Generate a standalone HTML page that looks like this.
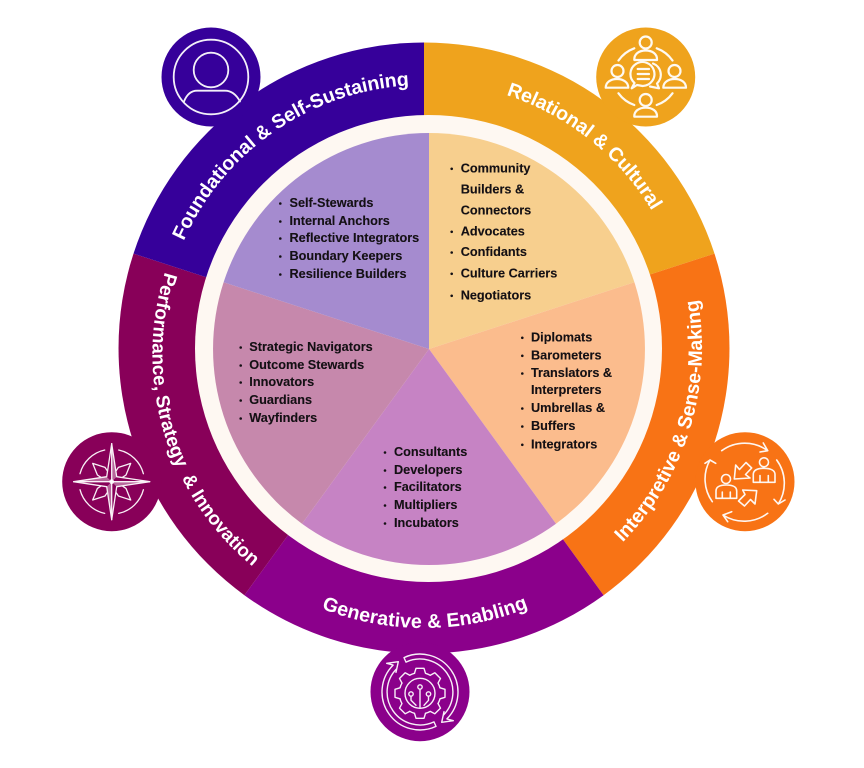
<!DOCTYPE html>
<html lang="en">
<head>
<meta charset="utf-8">
<title>Roles wheel</title>
<style>
html,body{margin:0;padding:0;background:#fff;width:864px;height:768px;overflow:hidden}
svg{display:block}
.arc{font-family:"Liberation Sans",sans-serif;font-weight:700;fill:#fff;font-size:19.6px}
.li{font-family:"Liberation Sans",sans-serif;font-weight:700;fill:#141014;font-size:12.7px;stroke:#141014;stroke-width:.12}
.ic{fill:none;stroke:#fff;stroke-linecap:round;stroke-linejoin:round;opacity:.94}
</style>
</head>
<body>
<svg width="864" height="768" viewBox="0 0 864 768" xmlns="http://www.w3.org/2000/svg">
<defs>
<path id="p1" d="M183.7 241A263 263 0 0 1 410.2 85.4"/>
<path id="p2" d="M506.2 95A266 266 0 0 1 654.4 215"/>
<path id="p3" d="M622.6 542.5A278 278 0 0 0 696.9 295"/>
<path id="p4" d="M321.4 608.5A280 280 0 0 0 533.4 605.7"/>
<path id="p5" d="M165 272A275 275 0 0 0 252 566"/>
</defs>

<!-- outer ring -->
<path d="M424 348V42.5A305.5 305.5 0 0 1 714.5 253.6Z" fill="#EFA31D"/>
<path d="M424 348L714.5 253.6A305.5 305.5 0 0 1 603.6 595.2Z" fill="#F87315"/>
<path d="M424 348L603.6 595.2A305.5 305.5 0 0 1 244.4 595.2Z" fill="#8B008B"/>
<path d="M424 348L244.4 595.2A305.5 305.5 0 0 1 133.5 253.6Z" fill="#880059"/>
<path d="M424 348L133.5 253.6A305.5 305.5 0 0 1 424 42.5Z" fill="#36009A"/>

<!-- icon discs -->
<circle cx="211" cy="77" r="49.5" fill="#36009A"/>
<circle cx="645.7" cy="77" r="49.5" fill="#EFA31D"/>
<circle cx="745" cy="481.7" r="49.5" fill="#F87315"/>
<circle cx="420" cy="691.7" r="49.5" fill="#8B008B"/>
<circle cx="111.7" cy="481.7" r="49.5" fill="#880059"/>

<!-- cream ring -->
<circle cx="428.5" cy="348.5" r="233.5" fill="#FEF8F2"/>

<!-- pie -->
<path d="M429 349V133A216 216 0 0 1 634.4 282.3Z" fill="#F7CF8E"/>
<path d="M429 349L634.4 282.3A216 216 0 0 1 556 523.7Z" fill="#FBBC8D"/>
<path d="M429 349L556 523.7A216 216 0 0 1 302 523.7Z" fill="#C683C4"/>
<path d="M429 349L302 523.7A216 216 0 0 1 223.6 282.3Z" fill="#C688AC"/>
<path d="M429 349L223.6 282.3A216 216 0 0 1 429 133Z" fill="#A58BCF"/>

<!-- ring labels -->
<text class="arc"><textPath href="#p1" textLength="288">Foundational &amp; Self-Sustaining</textPath></text>
<text class="arc"><textPath href="#p2" textLength="190">Relational &amp; Cultural</textPath></text>
<text class="arc"><textPath href="#p3" textLength="264">Interpretive &amp; Sense-Making</textPath></text>
<text class="arc"><textPath href="#p4" textLength="212">Generative &amp; Enabling</textPath></text>
<text class="arc" style="font-size:19px" xml:space="preserve"><textPath href="#p5" textLength="326">Performance, Strategy&#160; &amp; Innovation</textPath></text>

<!-- lists -->
<g class="li">
<text x="289.5" y="207">Self-Stewards</text>
<text x="289.5" y="225">Internal Anchors</text>
<text x="289.5" y="242">Reflective Integrators</text>
<text x="289.5" y="260">Boundary Keepers</text>
<text x="289.5" y="278">Resilience Builders</text>

<text x="249.3" y="351">Strategic Navigators</text>
<text x="249.3" y="369">Outcome Stewards</text>
<text x="249.3" y="386">Innovators</text>
<text x="249.3" y="404">Guardians</text>
<text x="249.3" y="422">Wayfinders</text>

<text x="460.7" y="172.3">Community</text>
<text x="460.7" y="193.3">Builders &amp;</text>
<text x="460.7" y="214.3">Connectors</text>
<text x="460.7" y="235.3">Advocates</text>
<text x="460.7" y="256">Confidants</text>
<text x="460.7" y="277.3">Culture Carriers</text>
<text x="460.7" y="299.3">Negotiators</text>

<text x="531" y="341.3">Diplomats</text>
<text x="531" y="359.3">Barometers</text>
<text x="531" y="377">Translators &amp;</text>
<text x="531" y="394">Interpreters</text>
<text x="531" y="412">Umbrellas &amp;</text>
<text x="531" y="430">Buffers</text>
<text x="531" y="448.3">Integrators</text>

<text x="394" y="456">Consultants</text>
<text x="394" y="474">Developers</text>
<text x="394" y="491">Facilitators</text>
<text x="394" y="509">Multipliers</text>
<text x="394" y="527">Incubators</text>
</g>

<!-- bullets -->
<g fill="#141014">
<circle cx="280.3" cy="203.5" r="1.3"/><circle cx="280.3" cy="221.5" r="1.3"/><circle cx="280.3" cy="238.5" r="1.3"/><circle cx="280.3" cy="256.5" r="1.3"/><circle cx="280.3" cy="274.5" r="1.3"/>
<circle cx="240.7" cy="347.5" r="1.3"/><circle cx="240.7" cy="365.5" r="1.3"/><circle cx="240.7" cy="382.5" r="1.3"/><circle cx="240.7" cy="400.5" r="1.3"/><circle cx="240.7" cy="418.5" r="1.3"/>
<circle cx="451.7" cy="168.8" r="1.3"/><circle cx="451.7" cy="231.8" r="1.3"/><circle cx="451.7" cy="252.5" r="1.3"/><circle cx="451.7" cy="273.8" r="1.3"/><circle cx="451.7" cy="295.8" r="1.3"/>
<circle cx="522.3" cy="337.8" r="1.3"/><circle cx="522.3" cy="355.8" r="1.3"/><circle cx="522.3" cy="373.5" r="1.3"/><circle cx="522.3" cy="408.5" r="1.3"/><circle cx="522.3" cy="426.5" r="1.3"/><circle cx="522.3" cy="444.8" r="1.3"/>
<circle cx="385" cy="452.5" r="1.3"/><circle cx="385" cy="470.5" r="1.3"/><circle cx="385" cy="487.5" r="1.3"/><circle cx="385" cy="505.5" r="1.3"/><circle cx="385" cy="523.5" r="1.3"/>
</g>

<!-- foundational icon -->
<g class="ic" style="stroke-width:1.8">
<circle cx="211" cy="77" r="37.3"/>
<circle cx="211" cy="70" r="17.3"/>
<path d="M184 101.5C187 94 191 90.7 197 90.7H225C231 90.7 236 94 240 101.5"/>
</g>

<!-- relational icon -->
<g class="ic" style="stroke-width:2.2">
<circle cx="645.7" cy="42.5" r="6"/>
<path d="M634.3 60C634 54 639 50.5 645.7 50.5S657.4 54 657 60Z"/>
<circle cx="617.5" cy="71" r="6"/>
<path d="M605.7 87.7C605.7 82.5 610.5 79 617 79S628.3 82.5 628.3 87.7Z"/>
<circle cx="674.5" cy="71" r="6"/>
<path d="M663.3 87.7C663.3 82.5 668 79 674.7 79S686 82.5 686 87.7Z"/>
<circle cx="645.7" cy="100" r="6"/>
<path d="M634.3 116.7C634 111 639 107.7 645.7 107.7S657.4 111 657 116.7Z"/>
<path d="M618.5 60.5A33 33 0 0 1 634.3 48.3M656.7 48.3A33 33 0 0 1 672.5 60.5M672.5 93.3A33 33 0 0 1 656.7 105M634.3 105A33 33 0 0 1 618.5 93.3"/>
<path d="M631.7 88.3L634.5 83A12 12 0 1 1 642.7 86L637 85Z"/>
<path d="M653 63.5A12 12 0 0 1 657 83.5L659 88.3L650 86.5"/>
<path d="M637.7 69H649M637.7 74H649M637.7 79H649"/>
</g>

<!-- interpretive icon -->
<g class="ic" style="stroke-width:1.6">
<path d="M721.7 450.7A39 39 0 0 1 767.7 450.7M763.3 443L767.7 450.7L760 452"/>
<path d="M776.7 460A39 39 0 0 1 778.3 504M774 499.3L778.3 504L785 500"/>
<path d="M767.7 513.3A39 39 0 0 1 723 515M731.7 511.7L723 515L727.7 521.7"/>
<path d="M712.3 501.7A39 39 0 0 1 710 460M705 463.3L710 460L715.7 463.3"/>
<circle cx="764" cy="462.3" r="4.5"/>
<path d="M753.3 482.3V474.5C753.3 470.5 757 468.3 764 468.3S775 470.5 775 474.5V482.3ZM760 475.5V482.3M768.3 475.5V482.3"/>
<circle cx="726" cy="479" r="4.5"/>
<path d="M716 498.3V491C716 487 719.5 485 726.3 485S736.7 487 736.7 491V498.3ZM722.3 492V498.3M730.3 492V498.3"/>
<path d="M734.3 479L735.7 465L739.5 469.5L746 462.5L751.7 468L745.5 474.5L750 478Z"/>
<path d="M756.7 490.7L755 504L750.5 499.5L744.5 506L738.5 501L745 494.5L742.7 490Z"/>
</g>

<!-- generative icon -->
<g class="ic" style="stroke-width:1.4">
<path d="M404 657.6A38 38 0 0 1 446.9 718.9L453.3 720.7L441.7 722.3L444 711.7L443.3 715.3A33 33 0 0 0 406 662.1Z"/>
<path transform="rotate(180 420 692)" d="M404 657.6A38 38 0 0 1 446.9 718.9L453.3 720.7L441.7 722.3L444 711.7L443.3 715.3A33 33 0 0 0 406 662.1Z"/>
<g transform="translate(420 693.3)">
<path d="M-5.5 -20L-4 -25H4L5.5 -20A20.7 20.7 0 0 1 10.25 -18"/>
<path transform="rotate(45)" d="M-5.5 -20L-4 -25H4L5.5 -20A20.7 20.7 0 0 1 10.25 -18"/>
<path transform="rotate(90)" d="M-5.5 -20L-4 -25H4L5.5 -20A20.7 20.7 0 0 1 10.25 -18"/>
<path transform="rotate(135)" d="M-5.5 -20L-4 -25H4L5.5 -20A20.7 20.7 0 0 1 10.25 -18"/>
<path transform="rotate(180)" d="M-5.5 -20L-4 -25H4L5.5 -20A20.7 20.7 0 0 1 10.25 -18"/>
<path transform="rotate(225)" d="M-5.5 -20L-4 -25H4L5.5 -20A20.7 20.7 0 0 1 10.25 -18"/>
<path transform="rotate(270)" d="M-5.5 -20L-4 -25H4L5.5 -20A20.7 20.7 0 0 1 10.25 -18"/>
<path transform="rotate(315)" d="M-5.5 -20L-4 -25H4L5.5 -20A20.7 20.7 0 0 1 10.25 -18"/>
<circle r="15"/>
<circle cx="0" cy="-6.3" r="2.2"/>
<circle cx="-9" cy="0.7" r="2.2"/>
<circle cx="8.5" cy="0.7" r="2.2"/>
<path d="M0 -4V14M-9 3V7L-4 12M8.5 3V7L4 12"/>
</g>
</g>

<!-- performance icon -->
<g transform="translate(111.7 481.7)">
<path d="M0 -38L5 -5L0 0ZM38 0L5 5L0 0ZM0 38L-5 5L0 0ZM-38 0L-5 -5L0 0Z" fill="#fff" opacity=".4"/>
<g class="ic" style="stroke-width:1.3">
<path d="M-31.7 -8A32.7 32.7 0 0 1 -7 -31.7M7 -31.7A32.7 32.7 0 0 1 31.7 -8M31.7 8A32.7 32.7 0 0 1 7 31.7M-7 31.7A32.7 32.7 0 0 1 -31.7 8"/>
<path d="M0 -38L5 -5L38 0L5 5L0 38L-5 5L-38 0L-5 -5Z"/>
<path d="M0 -38V38M-38 0H38"/>
<path d="M-4.5 -11L-6.7 -14.3L-19 -18.3L-14.3 -6.7L-11 -4.5"/>
<path d="M4.5 -11L6.7 -14.3L19 -18.3L14.3 -6.7L11 -4.5"/>
<path d="M4.5 11L6.7 14.3L19 18.3L14.3 6.7L11 4.5"/>
<path d="M-4.5 11L-6.7 14.3L-19 18.3L-14.3 6.7L-11 4.5"/>
</g>
<circle r="2.4" fill="#fff" opacity=".85"/>
</g>
</svg>
</body>
</html>
